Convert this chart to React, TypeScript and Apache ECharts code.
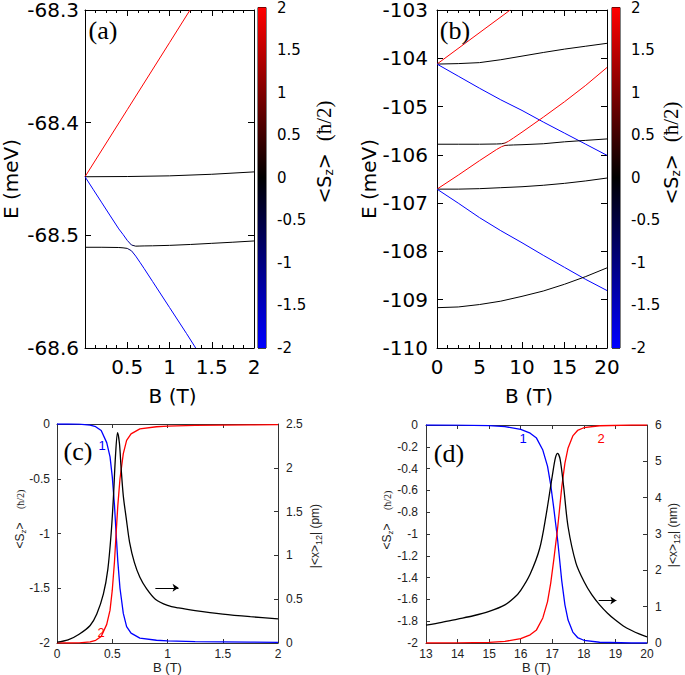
import React, { useEffect, useRef } from 'react';
import * as echarts from 'echarts';

// ---------------- Panel (a): levels vs B (0..2 T) ----------------
const aRedB = [0, 0.5, 1.0, 1.243];
const aRedE = [-68.448, -68.3885, -68.329, -68.3];
const aBlackTopB = [0, 0.5, 1, 1.5, 2];
const aBlackTopE = [-68.448, -68.4478, -68.4472, -68.4458, -68.4437];
// upper branch of the anticrossing: blue -> black
const aUpperB = [0, 0.1, 0.2, 0.3, 0.4, 0.45, 0.5, 0.55, 0.6, 0.65, 0.7, 0.8, 1.0, 1.25, 1.5, 1.75, 2.0];
const aUpperE = [-68.448, -68.4596, -68.4712, -68.4828, -68.4943, -68.4992, -68.5045, -68.5086, -68.5096, -68.5095, -68.5094, -68.5093, -68.5089, -68.5081, -68.5071, -68.5061, -68.505];
// lower branch: black -> blue
const aLowerB = [0, 0.2, 0.4, 0.45, 0.5, 0.55, 0.6, 0.65, 0.7, 0.8, 1.0, 1.2, 1.31];
const aLowerE = [-68.5106, -68.5106, -68.5108, -68.5111, -68.5116, -68.5137, -68.5184, -68.5239, -68.5295, -68.541, -68.564, -68.587, -68.6];
const aXTicks = { min: 0, max: 2, interval: 0.5 };
const aYTicks = { min: -68.6, max: -68.3, interval: 0.1 };

// ---------------- Panel (b): levels vs B (0..20 T) ----------------
const bField = [0, 2.5, 5, 7.5, 10, 12.5, 15, 17.5, 20];
const bBlackTopE = [-104.12, -104.11, -104.09, -104.03, -103.955, -103.88, -103.81, -103.75, -103.69];
const bBlueTopE = [-104.12, -104.37, -104.62, -104.86, -105.08, -105.32, -105.55, -105.78, -106.01];
const bBlackMidLowE = [-106.71, -106.71, -106.7, -106.68, -106.66, -106.63, -106.59, -106.54, -106.48];
const bBlueLowE = [-106.71, -107.0, -107.3, -107.57, -107.82, -108.08, -108.33, -108.58, -108.81];
const bBlackBottomE = [-109.165, -109.15, -109.1, -109.03, -108.93, -108.82, -108.68, -108.52, -108.34];
const bRedTopB = [0, 2, 4, 6, 8, 8.6];
const bRedTopE = [-104.12, -103.86, -103.6, -103.34, -103.08, -103.0];
const bMidB = [0, 2.5, 5, 7, 7.6, 8, 8.4, 9, 10, 12.5, 15, 17.5, 20];
const bUpperMidE = [-105.78, -105.78, -105.78, -105.775, -105.77, -105.755, -105.72, -105.65, -105.53, -105.22, -104.9, -104.56, -104.19];
const bLowerMidE = [-106.71, -106.42, -106.12, -105.89, -105.83, -105.805, -105.8, -105.795, -105.79, -105.77, -105.73, -105.7, -105.67];
const bXTicks = { min: 0, max: 20, interval: 5 };
const bYTicks = { min: -110, max: -103, interval: 1 };

// colour bar <Sz>
const cbTicks = { min: -2, max: 2, interval: 0.5 };
const cbStops = [-2, 0, 2];
const cbColors = ['#0000ff', '#000000', '#ff0000'];

// ---------------- Panel (c): <Sz> and |<x>12| (pm) ----------------
const cField = [0, 0.1, 0.2, 0.3, 0.35, 0.4, 0.45, 0.48, 0.5, 0.52, 0.535, 0.55, 0.57, 0.6, 0.63, 0.67, 0.75, 0.9, 1.0, 1.25, 1.5, 1.75, 2.0];
const cSz1 = [0, 0, -0.002, -0.01, -0.025, -0.06, -0.17, -0.3, -0.48, -0.74, -1.0, -1.25, -1.5, -1.73, -1.85, -1.91, -1.955, -1.975, -1.98, -1.988, -1.99, -1.992, -1.994];
const cSz2 = [-2, -2, -1.998, -1.99, -1.975, -1.94, -1.83, -1.7, -1.52, -1.26, -1.0, -0.75, -0.5, -0.27, -0.15, -0.09, -0.045, -0.025, -0.02, -0.012, -0.01, -0.008, -0.006];
const cXB = [0, 0.1, 0.2, 0.3, 0.36, 0.42, 0.46, 0.49, 0.51, 0.53, 0.548, 0.565, 0.58, 0.6, 0.627, 0.657, 0.7, 0.75, 0.81, 0.89, 1.0, 1.1, 1.25, 1.5, 1.75, 2.0];
const cX12 = [0.01, 0.035, 0.1, 0.2, 0.33, 0.56, 0.84, 1.25, 1.65, 2.15, 2.4, 2.28, 2.0, 1.68, 1.42, 1.15, 0.92, 0.75, 0.62, 0.5, 0.43, 0.4, 0.37, 0.33, 0.3, 0.275];
const cXTicks = { min: 0, max: 2, interval: 0.5 };
const cSzTicks = { min: -2, max: 0, interval: 0.5 };
const cX12Ticks = { min: 0, max: 2.5, interval: 0.5 };
const cArrow = [[0.89, 0.63], [1.1, 0.63]];

// ---------------- Panel (d): <Sz> and |<x>12| (nm) ----------------
const dField = [13, 14, 15, 15.5, 16, 16.3, 16.5, 16.7, 16.85, 16.95, 17.05, 17.1, 17.16, 17.22, 17.3, 17.4, 17.5, 17.65, 17.8, 18.0, 18.5, 19.5, 20];
const dSz1 = [0, -0.001, -0.006, -0.015, -0.04, -0.075, -0.12, -0.23, -0.38, -0.55, -0.77, -0.89, -1.03, -1.2, -1.43, -1.65, -1.79, -1.9, -1.95, -1.975, -1.993, -2, -2];
const dSz2 = [-2, -1.999, -1.994, -1.985, -1.96, -1.925, -1.88, -1.77, -1.62, -1.45, -1.23, -1.11, -0.97, -0.8, -0.57, -0.35, -0.21, -0.1, -0.05, -0.025, -0.007, 0, 0];
const dXB = [13, 13.5, 14, 14.5, 15, 15.5, 15.8, 16, 16.3, 16.6, 16.8, 17, 17.1, 17.17, 17.25, 17.36, 17.5, 17.75, 18, 18.25, 18.5, 18.75, 19, 19.25, 19.5, 19.75, 20];
const dX12 = [0.49, 0.57, 0.66, 0.75, 0.87, 1.05, 1.25, 1.45, 1.9, 2.6, 3.5, 4.6, 5.1, 5.22, 5.05, 4.3, 3.2, 2.2, 1.7, 1.33, 1.05, 0.82, 0.63, 0.47, 0.35, 0.25, 0.17];
const dXTicks = { min: 13, max: 20, interval: 1 };
const dSzTicks = { min: -2, max: 0, interval: 0.2 };
const dX12Ticks = { min: 0, max: 6, interval: 1 };
const dArrow = [[18.47, 1.17], [19.03, 1.17]];

const BLUE = '#0000ff';
const RED = '#ff0000';
const BLACK = '#000000';
const SANS_BIG = 'DejaVu Sans';
const SANS_SMALL = 'Liberation Sans';
const SERIF = 'Liberation Serif';

const zip = (xs: number[], ys: number[]) => xs.map((x, i) => [x, ys[i]]);

export default function App() {
  const ref = useRef<HTMLDivElement>(null);

  useEffect(() => {
    document.body.style.margin = '0';
    const chart = echarts.init(ref.current!, null, { renderer: 'svg' });

    const grids = [
      { left: 83, top: 7, width: 171, height: 341 },
      { left: 258, top: 7, width: 8, height: 341, show: true, borderColor: '#000', borderWidth: 1 },
      { left: 437, top: 7, width: 170, height: 341 },
      { left: 612, top: 7, width: 8, height: 341, show: true, borderColor: '#000', borderWidth: 1 },
      { left: 57, top: 424, width: 221, height: 220 },
      { left: 426, top: 425, width: 221, height: 218 },
    ];

    const bigLabel = { fontFamily: SANS_BIG, fontSize: 20, color: '#000' };
    const smallLabel = { fontFamily: SANS_SMALL, fontSize: 12, color: '#222' };

    const mkX = (gridIndex: number, t: any, position: string, label: any, big: boolean, extra: any = {}) => ({
      type: 'value', gridIndex, min: t.min, max: t.max, interval: t.interval, position,
      axisLine: { show: true, onZero: false, lineStyle: { color: big ? '#000' : '#333', width: 1 } },
      axisTick: { show: true, inside: true, length: big ? 6 : 4, lineStyle: { color: big ? '#000' : '#333' } },
      minorTick: big ? { show: true, splitNumber: 4, length: 3, lineStyle: { color: '#000' } } : { show: false },
      splitLine: { show: false },
      axisLabel: label ? label : { show: false },
      ...extra,
    });
    const mkY = (gridIndex: number, t: any, position: string, label: any, big: boolean, extra: any = {}) => ({
      type: 'value', gridIndex, min: t.min, max: t.max, interval: t.interval, position,
      axisLine: { show: true, onZero: false, lineStyle: { color: big ? '#000' : '#333', width: 1 } },
      axisTick: { show: true, inside: true, length: big ? 6 : 4, lineStyle: { color: big ? '#000' : '#333' } },
      splitLine: { show: false },
      axisLabel: label ? label : { show: false },
      ...extra,
    });

    const xAxis = [
      // 0,1: (a)
      mkX(0, aXTicks, 'bottom', { ...bigLabel, margin: 9, formatter: (v: number) => (v === 0 ? '' : String(v)) }, true, {
        name: 'B (T)', nameLocation: 'middle', nameGap: 38,
        nameTextStyle: { fontFamily: SANS_BIG, fontSize: 20, color: '#000', padding: [0, 0, 0, 6] },
      }),
      mkX(0, aXTicks, 'top', null, true),
      // 2: (a) colour bar
      { type: 'value', gridIndex: 1, min: 0, max: 1, show: false },
      // 3,4: (b)
      mkX(2, bXTicks, 'bottom', { ...bigLabel, margin: 9 }, true, {
        name: 'B (T)', nameLocation: 'middle', nameGap: 38,
        nameTextStyle: { fontFamily: SANS_BIG, fontSize: 20, color: '#000', padding: [0, 0, 0, 14] },
      }),
      mkX(2, bXTicks, 'top', null, true),
      // 5: (b) colour bar
      { type: 'value', gridIndex: 3, min: 0, max: 1, show: false },
      // 6,7: (c)
      mkX(4, cXTicks, 'bottom', { ...smallLabel, margin: 5 }, false, {
        name: 'B (T)', nameLocation: 'middle', nameGap: 18,
        nameTextStyle: { fontFamily: SANS_SMALL, fontSize: 13, color: '#222' },
      }),
      mkX(4, cXTicks, 'top', null, false),
      // 8,9: (d)
      mkX(5, dXTicks, 'bottom', { ...smallLabel, margin: 5 }, false, {
        name: 'B (T)', nameLocation: 'middle', nameGap: 18,
        nameTextStyle: { fontFamily: SANS_SMALL, fontSize: 13, color: '#222' },
      }),
      mkX(5, dXTicks, 'top', null, false),
    ];

    const cbLabel = { fontFamily: SANS_BIG, fontSize: 15, color: '#000', margin: 11, formatter: (v: number) => String(+v.toFixed(1)) };
    const cbAxis = (gridIndex: number) => ({
      type: 'value', gridIndex, min: cbTicks.min, max: cbTicks.max, interval: cbTicks.interval, position: 'right',
      axisLine: { show: false, onZero: false },
      axisTick: { show: true, inside: true, length: 8, lineStyle: { color: '#000', opacity: 0.5 } },
      splitLine: { show: false },
      axisLabel: cbLabel,
    });

    const yAxis = [
      // 0,1 (a)
      mkY(0, aYTicks, 'left', { ...bigLabel, margin: 6, formatter: (v: number) => v.toFixed(1) }, true, {
        name: 'E (meV)', nameLocation: 'middle', nameGap: 64,
        nameTextStyle: { fontFamily: SANS_BIG, fontSize: 20, color: '#000' },
      }),
      mkY(0, aYTicks, 'right', null, true),
      // 2 (a) colour bar
      cbAxis(1),
      // 3,4 (b)
      mkY(2, bYTicks, 'left', { ...bigLabel, margin: 9 }, true, {
        name: 'E (meV)', nameLocation: 'middle', nameGap: 54,
        nameTextStyle: { fontFamily: SANS_BIG, fontSize: 20, color: '#000' },
      }),
      mkY(2, bYTicks, 'right', null, true),
      // 5 (b) colour bar
      cbAxis(3),
      // 6,7 (c)
      mkY(4, cSzTicks, 'left', { ...smallLabel, margin: 7, formatter: (v: number) => String(+v.toFixed(1)) }, false),
      mkY(4, cX12Ticks, 'right', { ...smallLabel, margin: 8, formatter: (v: number) => String(+v.toFixed(1)) }, false),
      // 8,9 (d)
      mkY(5, dSzTicks, 'left', { ...smallLabel, margin: 8, formatter: (v: number) => String(+v.toFixed(1)) }, false),
      mkY(5, dX12Ticks, 'right', { ...smallLabel, margin: 8 }, false),
    ];

    const series: any[] = [];
    // color === null -> colour comes from a visualMap (gradient along B)
    const addLine = (xi: number, yi: number, data: number[][], color: string | null, width = 1, extra: any = {}) => {
      const s: any = {
        type: 'line', xAxisIndex: xi, yAxisIndex: yi, data, showSymbol: false, symbol: 'none',
        silent: true, clip: true, z: 3,
        lineStyle: { width }, ...extra,
      };
      if (color) {
        s.lineStyle.color = color;
        s.itemStyle = { color };
      }
      series.push(s);
      return series.length - 1;
    };

    // (a)
    addLine(0, 0, zip(aRedB, aRedE), RED);
    addLine(0, 0, zip(aBlackTopB, aBlackTopE), BLACK);
    const iAUp = addLine(0, 0, zip(aUpperB, aUpperE), null);
    const iALow = addLine(0, 0, zip(aLowerB, aLowerE), null);
    // (b)
    addLine(3, 3, zip(bRedTopB, bRedTopE), RED);
    addLine(3, 3, zip(bField, bBlackTopE), BLACK);
    addLine(3, 3, zip(bField, bBlueTopE), BLUE);
    const iBUp = addLine(3, 3, zip(bMidB, bUpperMidE), null);
    const iBLow = addLine(3, 3, zip(bMidB, bLowerMidE), null);
    addLine(3, 3, zip(bField, bBlackMidLowE), BLACK);
    addLine(3, 3, zip(bField, bBlueLowE), BLUE);
    addLine(3, 3, zip(bField, bBlackBottomE), BLACK);
    // (c)
    addLine(6, 6, zip(cField, cSz1), BLUE, 1.3);
    addLine(6, 6, zip(cField, cSz2), RED, 1.3);
    addLine(6, 7, zip(cXB, cX12), BLACK, 1.3, {
      smooth: 0.3,
      markLine: {
        silent: true, symbol: ['none', 'arrow'], symbolSize: 6, animation: false,
        lineStyle: { color: '#000', width: 1, type: 'solid' }, label: { show: false },
        data: [[{ coord: cArrow[0] }, { coord: cArrow[1] }]],
      },
    });
    // (d)
    addLine(8, 8, zip(dField, dSz1), BLUE, 1.3);
    addLine(8, 8, zip(dField, dSz2), RED, 1.3);
    addLine(8, 9, zip(dXB, dX12), BLACK, 1.3, {
      smooth: 0.3,
      markLine: {
        silent: true, symbol: ['none', 'arrow'], symbolSize: 6, animation: false,
        lineStyle: { color: '#000', width: 1, type: 'solid' }, label: { show: false },
        data: [[{ coord: dArrow[0] }, { coord: dArrow[1] }]],
      },
    });

    // colour bars
    const cbGradient = () =>
      new echarts.graphic.LinearGradient(0, 0, 0, 1,
        cbStops.map((v, i) => ({ offset: (cbTicks.max - v) / (cbTicks.max - cbTicks.min), color: cbColors[i] })).reverse());
    const cbRender = (params: any, api: any) => {
      const tl = api.coord([0, api.value(2)]);
      const br = api.coord([1, api.value(1)]);
      return {
        type: 'rect',
        shape: { x: tl[0], y: tl[1], width: br[0] - tl[0], height: br[1] - tl[1] },
        style: { fill: cbGradient() },
      };
    };
    [[2, 2], [5, 5]].forEach(([xi, yi]) => {
      series.push({
        type: 'custom', xAxisIndex: xi, yAxisIndex: yi, silent: true, z: 1,
        renderItem: cbRender,
        encode: { x: 0, y: [1, 2] },
        data: [[0, cbTicks.min, cbTicks.max]],
      });
    });

    const vm = (idx: number, min: number, max: number, colors: string[]) => ({
      type: 'continuous', show: false, dimension: 0, seriesIndex: idx, min, max,
      inRange: { color: colors },
    });

    const title = (x: number, y: number, text: string, fontSize: number, family: string, fill = '#000', rotation = 0, rich?: any) => ({
      type: 'text', x, y, rotation, silent: true, z: 10,
      style: { text, fill, fontSize, fontFamily: family, align: 'center', verticalAlign: 'middle', rich },
    });

    const szRichBig = {
      s: { fontFamily: SANS_BIG, fontSize: 19, fill: '#000' },
      z: { fontFamily: SANS_BIG, fontSize: 12, fill: '#000', padding: [10, 0, 0, 0] },
      h: { fontFamily: SERIF, fontSize: 21, fill: '#000' },
    };
    const szRichSmall = {
      s: { fontFamily: SANS_SMALL, fontSize: 12, fill: '#222' },
      z: { fontFamily: SANS_SMALL, fontSize: 8, fill: '#222', padding: [6, 0, 0, 0] },
      h: { fontFamily: SERIF, fontSize: 10, fill: '#222' },
    };
    const xRich = {
      s: { fontFamily: SANS_SMALL, fontSize: 12, fill: '#222' },
      z: { fontFamily: SANS_SMALL, fontSize: 9, fill: '#222', padding: [7, 0, 0, 0] },
    };

    const graphic = [
      title(103, 30, '(a)', 26, SERIF),
      title(455, 30, '(b)', 26, SERIF),
      title(78, 451, '(c)', 26, SERIF),
      title(449, 453, '(d)', 26, SERIF),
      title(324, 152, '{s|<S}{z|z}{s|>}  {h|(ħ/2)}', 19, SANS_BIG, '#000', Math.PI / 2, szRichBig),
      title(671, 153, '{s|<S}{z|z}{s|>}  {h|(ħ/2)}', 19, SANS_BIG, '#000', Math.PI / 2, szRichBig),
      title(20, 519, '{s|<S}{z|z}{s|>}    {h|(ħ/2)}', 12, SANS_SMALL, '#222', Math.PI / 2, szRichSmall),
      title(387, 520, '{s|<S}{z|z}{s|>}    {h|(ħ/2)}', 12, SANS_SMALL, '#222', Math.PI / 2, szRichSmall),
      title(315, 536, '{s||<x>}{z|12}{s|| (pm)}', 12, SANS_SMALL, '#222', Math.PI / 2, xRich),
      title(673, 535, '{s||<x>}{z|12}{s|| (nm)}', 12, SANS_SMALL, '#222', Math.PI / 2, xRich),
      title(102, 445, '1', 13, SANS_SMALL, BLUE),
      title(101, 632, '2', 13, SANS_SMALL, RED),
      title(523, 438, '1', 13, SANS_SMALL, BLUE),
      title(601, 438, '2', 13, SANS_SMALL, RED),
    ];

    chart.setOption({
      animation: false,
      backgroundColor: '#fff',
      grid: grids,
      xAxis,
      yAxis,
      visualMap: [
        vm(iAUp, 0.48, 0.6, [BLUE, BLACK]),
        vm(iALow, 0.48, 0.6, [BLACK, BLUE]),
        vm(iBUp, 7.6, 8.4, [BLACK, RED]),
        vm(iBLow, 7.6, 8.4, [RED, BLACK]),
      ],
      series,
      graphic,
    });

    return () => chart.dispose();
  }, []);

  return <div ref={ref} style={{ width: 685, height: 675 }} />;
}
